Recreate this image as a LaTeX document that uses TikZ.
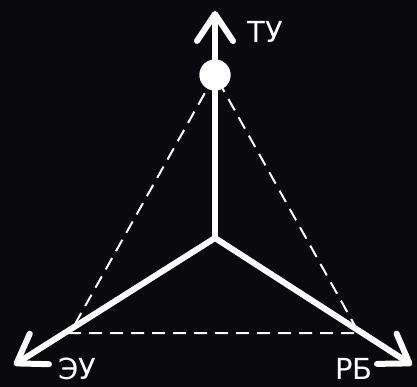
\documentclass[tikz,border=0pt]{standalone}
\usepackage{fontspec}
\setmainfont{DejaVu Sans}
\usetikzlibrary{arrows.meta}
\definecolor{bg}{RGB}{10,10,14}
\tikzset{
  axis/.style={draw=white, line width=6pt, line cap=round, line join=round,
    -{Straight Barb[length=27pt, width=36pt, line cap=round, line join=round]}},
  dashline/.style={draw=white, line width=2pt, dash pattern=on 13pt off 8pt},
  lbl/.style={text=white, font=\fontsize{29}{29}\selectfont, inner sep=0pt},
  dot/.style={circle, fill=white, minimum size=31pt, inner sep=0pt}
}
\begin{document}
\begin{tikzpicture}[x=1pt, y=-1pt]
  \fill[bg] (0,0) rectangle (417,387);
  \useasboundingbox (0,0) rectangle (417,387);
  \coordinate (c) at (215,238);
  \coordinate (tu) at (215,11);
  \coordinate (eu) at (14,365);
  \coordinate (rb) at (412,365);
  \coordinate (l) at (70,333);
  \coordinate (r) at (359,333);
  \node[dot] (d) at (215,75) {};
  \draw[dashline] (d.center) -- (l) -- (r) -- cycle;
  \draw[axis] (c) -- (tu);
  \draw[axis] (c) -- (eu);
  \draw[axis] (c) -- (rb);
  \node[dot] at (215,75) {};
  \node[lbl] (ltu) at (265,32) {ТУ};
  \node[lbl] (leu) at (77,369) {ЭУ};
  \node[lbl] (lrb) at (354,369) {РБ};
\end{tikzpicture}
\end{document}
